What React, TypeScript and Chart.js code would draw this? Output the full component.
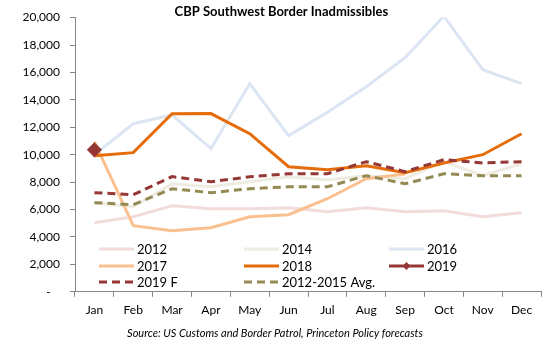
import React, { useEffect, useRef } from "react";
import { Chart, registerables } from "chart.js";

Chart.register(...registerables);

const months = ["Jan", "Feb", "Mar", "Apr", "May", "Jun", "Jul", "Aug", "Sep", "Oct", "Nov", "Dec"];
const s2012 = [5040, 5470, 6280, 6060, 6060, 6130, 5840, 6130, 5840, 5910, 5470, 5770];
const s2014 = [6500, 6200, 7880, 7660, 8030, 8390, 8180, 8470, 8250, 9490, 8470, 9340];
const s2016 = [10000, 12260, 12900, 10440, 15180, 11390, 13100, 14960, 17080, 20100, 16200, 15180];
const s2017 = [10950, 4820, 4450, 4670, 5470, 5620, 6790, 8250, 8600, null, null, null];
const s2018 = [9930, 10150, 12990, 13000, 11530, 9120, 8900, 9200, 8690, 9400, 10000, 11530];
const s2019 = [10360, null, null, null, null, null, null, null, null, null, null, null];
const s2019F = [7230, 7080, 8400, 8030, 8390, 8610, 8610, 9490, 8760, 9640, 9400, 9490];
const sAvg = [6500, 6350, 7520, 7230, 7520, 7660, 7660, 8470, 7880, 8610, 8470, 8470];

const FONT = "Lato, 'Open Sans', sans-serif";

const legendPlugin = {
  id: "insideLegend",
  afterDraw(chart: any) {
    const ctx = chart.ctx;
    const cols = [99, 244, 389];
    const rows = [249, 266, 282];
    chart.data.datasets.forEach((ds: any, i: number) => {
      const x = cols[i % 3];
      const y = rows[Math.floor(i / 3)];
      ctx.save();
      ctx.strokeStyle = ds.borderColor;
      ctx.lineWidth = ds.borderWidth;
      ctx.setLineDash(ds.borderDash || []);
      ctx.beginPath();
      ctx.moveTo(x, y);
      ctx.lineTo(x + 35, y);
      ctx.stroke();
      if (ds.pointRadius && ds.pointRadius > 0) {
        ctx.setLineDash([]);
        ctx.fillStyle = ds.pointBackgroundColor;
        const r = 4;
        const cx = x + 17.5;
        ctx.beginPath();
        ctx.moveTo(cx, y - r);
        ctx.lineTo(cx + r, y);
        ctx.lineTo(cx, y + r);
        ctx.lineTo(cx - r, y);
        ctx.closePath();
        ctx.fill();
      }
      ctx.fillStyle = "#000";
      ctx.font = `13px ${FONT}`;
      ctx.textBaseline = "middle";
      ctx.textAlign = "left";
      ctx.fillText(ds.label, x + 38, y + 1);
      ctx.restore();
    });
  },
};

export default function App() {
  const ref = useRef<HTMLCanvasElement>(null);
  useEffect(() => {
    if (!ref.current) return;
    const mk = (label: string, data: any[], color: string, dash: number[] | undefined, order: number) => ({
      label,
      data,
      borderColor: color,
      backgroundColor: color,
      borderWidth: 3,
      borderDash: dash,
      pointRadius: 0,
      tension: 0,
      fill: false,
      order,
    });
    const d2019: any = mk("2019", s2019, "#953735", undefined, 3);
    d2019.pointRadius = 5.5;
    d2019.pointStyle = "rectRot";
    d2019.pointBackgroundColor = "#953735";
    d2019.pointBorderColor = "#953735";
    const chart = new Chart(ref.current, {
      type: "line",
      data: {
        labels: months,
        datasets: [
          mk("2012", s2012, "#F2DCDB", undefined, 8),
          mk("2014", s2014, "#EEECE1", undefined, 7),
          mk("2016", s2016, "#DCE6F2", undefined, 6),
          mk("2017", s2017, "#FAC090", undefined, 5),
          mk("2018", s2018, "#E46C0A", undefined, 4),
          d2019,
          mk("2019 F", s2019F, "#953735", [8, 5], 2),
          mk("2012-2015 Avg.", sAvg, "#948A54", [8, 5], 1),
        ],
      },
      options: {
        animation: false,
        responsive: false,
        maintainAspectRatio: false,
        layout: { padding: { left: 9, right: 9, top: 0, bottom: 0 } },
        plugins: {
          legend: { display: false },
          tooltip: { enabled: false },
          title: {
            display: true,
            text: "    CBP Southwest Border Inadmissibles",
            color: "#000",
            font: { family: FONT, size: 13, weight: "bold" },
            padding: { top: 4, bottom: -2 },
          },
          subtitle: {
            display: true,
            position: "bottom",
            text: "Source: US Customs and Border Patrol, Princeton Policy forecasts",
            color: "#000",
            font: { family: FONT, size: 11, style: "italic" },
            padding: { top: 0, bottom: 8 },
          },
        },
        scales: {
          x: {
            offset: true,
            grid: { offset: true, drawOnChartArea: false, drawTicks: true, tickLength: 5, color: "#868686" },
            border: { color: "#868686", width: 1 },
            ticks: { color: "#000", font: { family: FONT, size: 12 }, padding: 6, maxRotation: 0, autoSkip: false },
            afterFit: (s: any) => { s.height = 35; },
          },
          y: {
            min: 0,
            max: 20000,
            grid: { drawOnChartArea: false, drawTicks: true, tickLength: 5, color: "#868686" },
            border: { color: "#868686", width: 1 },
            ticks: {
              stepSize: 2000,
              color: "#000",
              font: { family: FONT, size: 12 },
              padding: 10,
              callback: (v: any) => (Number(v) === 0 ? "-   " : Number(v).toLocaleString("en-US")),
            },
            afterFit: (s: any) => { s.width = 66; },
          },
        },
      },
      plugins: [legendPlugin],
    });
    return () => chart.destroy();
  }, []);
  return (
    <div style={{ position: "absolute", left: 0, top: 0, width: 550, height: 348, background: "#fff" }}>
      <canvas ref={ref} width={550} height={348} style={{ width: 550, height: 348 }} />
    </div>
  );
}
